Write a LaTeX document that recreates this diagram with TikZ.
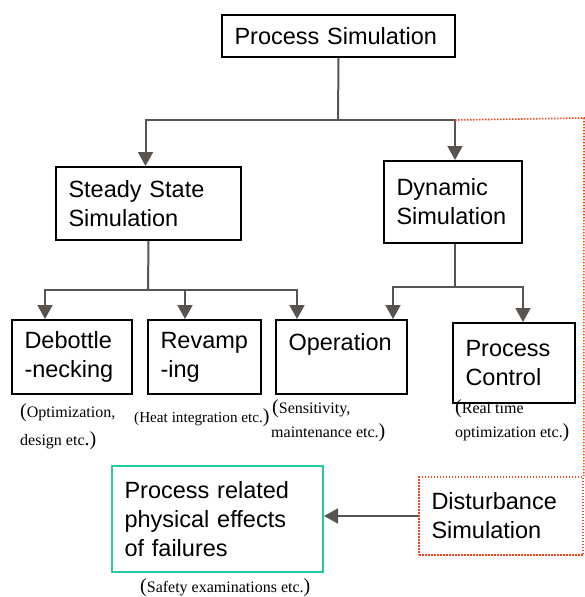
\documentclass[tikz,border=0pt]{standalone}
\usepackage{fontspec}
\setmainfont{Liberation Sans}
\newfontfamily\notefont{Liberation Serif}
\usetikzlibrary{arrows.meta}
\definecolor{linkgray}{RGB}{90,84,80}
\definecolor{faultred}{RGB}{240,70,30}
\definecolor{effectteal}{RGB}{38,201,160}
\newcommand{\bigp}[1]{{\fontsize{20pt}{20pt}\selectfont #1}}

\begin{document}
\begin{tikzpicture}[x=1pt, y=-1pt,
  box/.style={draw, line width=2pt, rectangle, inner xsep=12.5pt, inner ysep=0pt, align=left, font=\fontsize{23.5pt}{29pt}\selectfont},
  link/.style={draw=linkgray, line width=2pt},
  arrow/.style={link, -{Triangle[width=15pt,length=14pt]}},
  fault/.style={draw=faultred, line width=1.6pt, dash pattern=on 1.5pt off 1.5pt},
  note/.style={anchor=base west, inner sep=0pt, font=\notefont\fontsize{16pt}{16pt}\selectfont}
]
\useasboundingbox (0,0) rectangle (585,597);

% boxes
\node[box, text width=208pt, minimum height=42pt] (ps) at (338.5,36) {Process Simulation};
\node[box, text width=160pt, minimum height=73pt] (ss) at (148.5,203.5) {Steady State\\Simulation};
\node[box, text width=113pt, minimum height=82pt] (dyn) at (453,202) {Dynamic\\Simulation};
\node[box, text width=95pt, minimum height=74pt] (debot) at (72,357) {Debottle\\-necking};
\node[box, text width=88pt, minimum height=74pt] (revamp) at (204.5,357) {Revamp\\-ing};
\node[box, text width=106pt, minimum height=74pt, text depth=31pt] (oper) at (341.5,357) {Operation};
\node[box, text width=97pt, minimum height=80pt] (pctrl) at (514,363) {Process\\Control};
\node[box, draw=effectteal, text width=186pt, minimum height=106pt] (effects) at (217.5,519) {Process related\\physical effects\\of failures};
\node[box, fault, text width=139pt, minimum height=78pt] (disturb) at (501,516) {Disturbance\\Simulation};

% notes
\node[note] (optnote) at (20,417) {\bigp(Optimization,};
\node[note] (designnote) at (20,445) {design etc\bigp{.)}};
\node[note, font=\notefont\fontsize{15.2pt}{16pt}\selectfont] (heatnote) at (134,422) {(Heat integration etc.\bigp)};
\node[note] (sensnote) at (272,413) {\bigp(Sensitivity,};
\node[note] (maintnote) at (271,437) {maintenance etc.\bigp)};
\node[note] (rtnote) at (455,413) {\bigp(Real time};
\node[note] (rtoptnote) at (455,437) {optimization etc.\bigp)};
\node[note] (safenote) at (140,592) {\bigp(Safety examinations etc.\bigp)};

% connectors
\coordinate (j1) at (338,120);
\coordinate (j2) at (148,290);
\coordinate (j3) at (455,287);
\coordinate (edge) at (584,118);
\draw[link] (ps.south) -- (j1);
\draw[arrow] (j1) -| ([xshift=-3pt]ss.north);
\draw[arrow] (j1) -| ([xshift=2pt]dyn.north);
\draw[link] (ss.south) -- (j2);
\draw[arrow] (j2) -| ([xshift=-27pt]debot.north);
\draw[arrow] (j2) -| ([xshift=-19.5pt]revamp.north);
\draw[arrow] (j2) -| ([xshift=-44.5pt]oper.north);
\draw[link] ([xshift=2pt]dyn.south) -- (j3);
\draw[arrow] (j3) -| ([xshift=51.5pt]oper.north);
\draw[arrow] (j3) -| ([xshift=9pt]pctrl.north);
\draw[fault] ([xshift=2pt]dyn.north |- j1) -- (edge) -- (disturb.north east);
\draw[arrow] (disturb.west) -- (disturb.west -| effects.east);
\end{tikzpicture}
\end{document}
